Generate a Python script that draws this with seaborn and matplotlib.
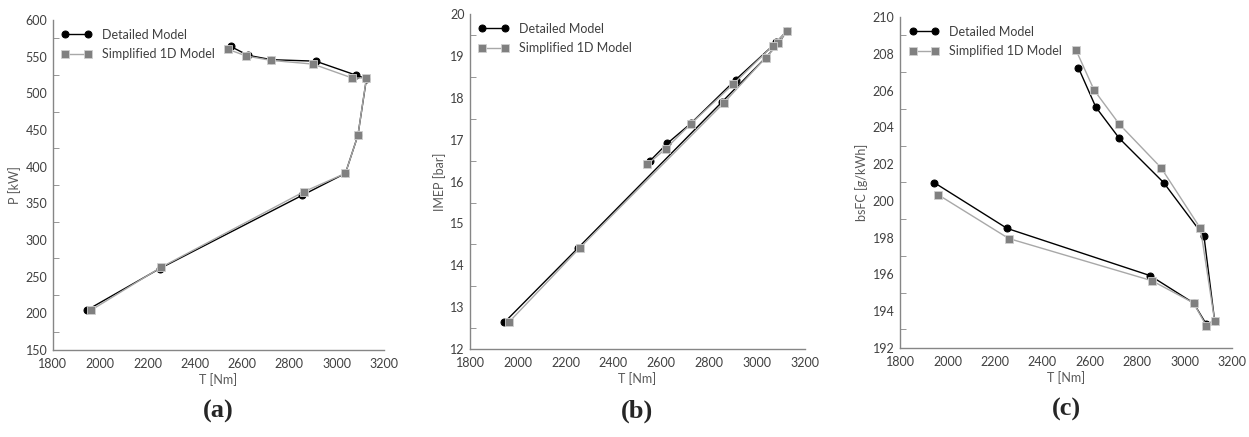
import matplotlib
matplotlib.use("Agg")
import matplotlib.pyplot as plt
from matplotlib.ticker import MultipleLocator
import pandas as pd
import seaborn as sns

# operating points, in the order the curves are drawn
t_detailed = [1944, 2251, 2854, 3037, 3090, 3126, 3081, 2911, 2724, 2625, 2552]
t_simple = [1962, 2258, 2862, 3037, 3090, 3126, 3066, 2900, 2724, 2618, 2542]

p_detailed = [204.5, 261, 361, 391, 443, 520, 525, 544, 546, 552, 564]
p_simple = [204.5, 263, 366, 391, 443, 521, 521, 540, 545, 551, 560]

imep_detailed = [12.64, 14.41, 17.9, 18.96, 19.3, 19.6, 19.32, 18.43, 17.39, 16.91, 16.49]
imep_simple = [12.64, 14.41, 17.88, 18.96, 19.30, 19.60, 19.24, 18.32, 17.38, 16.78, 16.41]

bsfc_detailed = [200.99, 198.5, 195.93, 194.44, 193.3, 193.45, 198.06, 200.99, 203.4, 205.1, 207.23]
bsfc_simple = [200.32, 197.95, 195.65, 194.44, 193.21, 193.45, 198.5, 201.8, 204.17, 206.02, 208.19]

labels = ["Detailed Model", "Simplified 1D Model"]
panel_names = ["(a)", "(b)", "(c)"]
y_labels = ["P [kW]", "IMEP [bar]", "bsFC [g/kWh]"]

sns.set_style("white")
plt.rcParams["font.family"] = ["Lato", "DejaVu Sans"]

fig = plt.figure(figsize=(12.49, 4.37), dpi=100)
boxes = [[0.0424, 0.199, 0.265, 0.755],
         [0.3763, 0.201, 0.268, 0.767],
         [0.7206, 0.204, 0.266, 0.757]]

panels = [
    (p_detailed, p_simple, (150, 600), 50, 25),
    (imep_detailed, imep_simple, (12, 20), 1, 0.5),
    (bsfc_detailed, bsfc_simple, (192, 210), 2, 1),
]

for i, (yd, ys, ylim, major, minor) in enumerate(panels):
    ax = fig.add_axes(boxes[i])
    df_d = pd.DataFrame({"T": t_detailed, "v": yd})
    df_s = pd.DataFrame({"T": t_simple, "v": ys})
    sns.lineplot(data=df_d, x="T", y="v", sort=False, estimator=None, ax=ax,
                 color="black", lw=1.0, marker="o", markersize=5,
                 markeredgecolor="black", label=labels[0], zorder=2)
    sns.lineplot(data=df_s, x="T", y="v", sort=False, estimator=None, ax=ax,
                 color="#a8a8a8", lw=1.0, marker="s", markersize=6,
                 markerfacecolor="#808080", markeredgecolor="#d0d0d0",
                 markeredgewidth=0.6, label=labels[1], zorder=3)

    ax.set_xlim(1800, 3200)
    ax.set_ylim(*ylim)
    ax.xaxis.set_major_locator(MultipleLocator(200))
    ax.yaxis.set_major_locator(MultipleLocator(major))
    ax.yaxis.set_minor_locator(MultipleLocator(minor))
    ax.tick_params(axis="x", which="major", direction="out", length=4,
                   color="#868686", labelsize=9, labelcolor="#404040", pad=2)
    ax.tick_params(axis="y", which="major", length=0, labelsize=9,
                   labelcolor="#404040", pad=4)
    ax.tick_params(axis="y", which="minor", direction="in", length=4,
                   color="#868686", left=True)
    for side in ["top", "right"]:
        ax.spines[side].set_visible(False)
    for side in ["left", "bottom"]:
        ax.spines[side].set_color("#868686")
        ax.spines[side].set_linewidth(1.0)

    ax.set_xlabel("T [Nm]", fontsize=9, color="#595959", labelpad=2)
    ax.set_ylabel(y_labels[i], fontsize=9, color="#595959", labelpad=3)

    leg = ax.legend(loc="upper left", frameon=False, fontsize=9, numpoints=2,
                    handlelength=2.4, borderaxespad=0.3, labelspacing=0.6)
    for txt in leg.get_texts():
        txt.set_color("#404040")

    ax.text(0.5, -0.185, panel_names[i], transform=ax.transAxes, ha="center",
            va="center", fontsize=19, fontweight="bold",
            family=["Liberation Serif", "DejaVu Serif"])

fig.savefig("out.png", dpi=100)
